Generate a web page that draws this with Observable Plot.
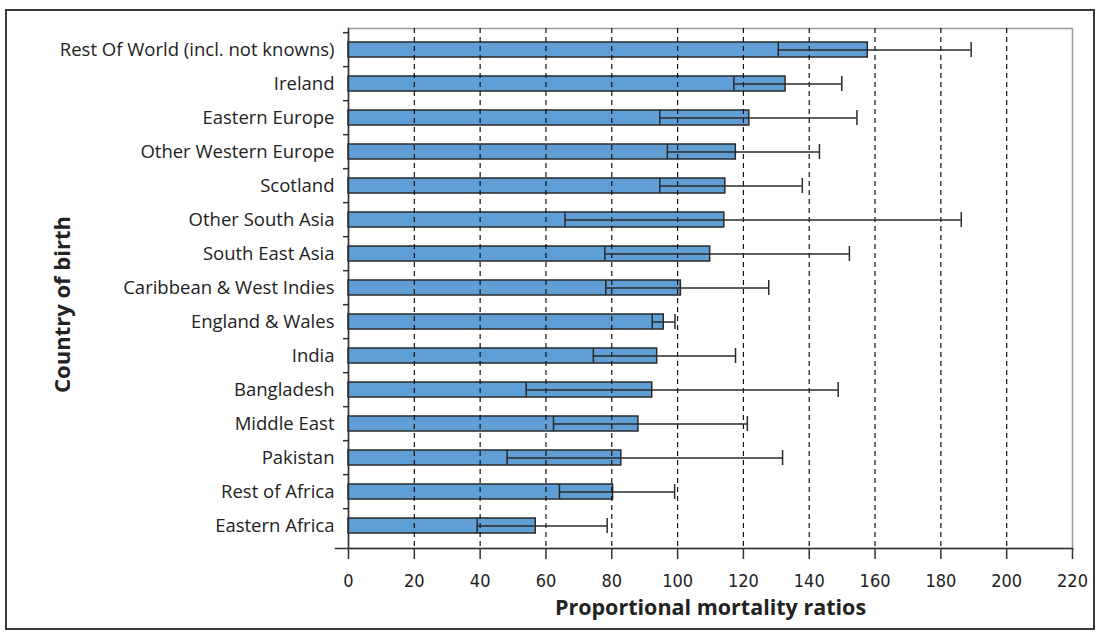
<!DOCTYPE html>
<html>
<head>
<meta charset="utf-8">
<script src="https://cdn.jsdelivr.net/npm/d3@7"></script>
<script src="https://cdn.jsdelivr.net/npm/@observablehq/plot@0.6"></script>
<style>
  html, body { margin: 0; padding: 0; background: #fff; }
  #wrap { position: relative; width: 1099px; height: 632px; }
  #border { position: absolute; left: 5px; top: 9px; width: 1086px; height: 617px; border: 2px solid #3a3a3a; pointer-events: none; }
  svg { display: block; }
</style>
</head>
<body>
<div id="wrap"><div id="border"></div></div>
<script>
const countries = [
  "Rest Of World (incl. not knowns)", "Ireland", "Eastern Europe", "Other Western Europe",
  "Scotland", "Other South Asia", "South East Asia", "Caribbean & West Indies",
  "England & Wales", "India", "Bangladesh", "Middle East", "Pakistan",
  "Rest of Africa", "Eastern Africa"
];
const pmr   = [157.8, 132.8, 121.8, 117.7, 114.5, 114.2, 109.9, 101.0, 95.8, 93.8, 92.3, 88.1, 82.9, 80.4, 56.9];
const lower = [130.6, 117.1, 94.6, 96.9, 94.6, 65.8, 77.9, 78.2, 92.3, 74.4, 54.0, 62.3, 48.2, 64.1, 39.1];
const upper = [189.2, 149.9, 154.5, 143.1, 137.9, 186.2, 152.2, 127.7, 99.2, 117.6, 148.8, 121.2, 131.9, 99.1, 78.6];
const xTicks = [0, 20, 40, 60, 80, 100, 120, 140, 160, 180, 200, 220];
const gridValues = [20, 40, 60, 80, 100, 120, 140, 160, 180, 200];
const xTitle = "Proportional mortality ratios";
const yTitle = "Country of birth";

const data = countries.map((c, i) => ({country: c, pmr: pmr[i], lower: lower[i], upper: upper[i]}));

const W = 1099, H = 632;
const mL = 348, mR = 27, mT = 28, mB = 84;
const step = (H - mT - mB) / countries.length;
const pi = 0.55;

const chart = Plot.plot({
  width: W,
  height: H,
  marginLeft: mL,
  marginRight: mR,
  marginTop: mT,
  marginBottom: mB,
  style: {fontFamily: "'Open Sans', sans-serif", background: "transparent", color: "#222"},
  x: {domain: [0, 220], axis: null},
  y: {domain: countries, paddingInner: pi, paddingOuter: pi / 2, axis: null},
  marks: [
    Plot.frame({stroke: "#9a9a9a", strokeWidth: 1.5}),
    Plot.barX(data, {x: "pmr", y: "country", fill: "#609fd6", stroke: "#2a2a2a", strokeWidth: 1.5}),
    Plot.ruleX(gridValues, {stroke: "#111", strokeWidth: 1.2, strokeDasharray: "5,4"}),
    Plot.ruleY(data, {y: "country", x1: "lower", x2: "upper", stroke: "#2a2a2a", strokeWidth: 1.5}),
    Plot.tickX(data, {x: "lower", y: "country", stroke: "#2a2a2a", strokeWidth: 1.5}),
    Plot.tickX(data, {x: "upper", y: "country", stroke: "#2a2a2a", strokeWidth: 1.5}),
    // category boundary ticks on the y axis
    Plot.axisY({tickSize: 5, text: null, label: null, dy: -step / 2, stroke: "#333", strokeWidth: 1.5}),
    // y axis category labels
    Plot.axisY({tickSize: 0, tickPadding: 14, fontSize: 18.5, label: null, fill: "#222"}),
    // axes lines
    Plot.frame({anchor: "left", stroke: "#333", strokeWidth: 1.5}),
    Plot.frame({anchor: "bottom", stroke: "#333", strokeWidth: 1.5, insetLeft: -13}),
    Plot.axisX({ticks: xTicks, tickSize: 11, tickPadding: 15, fontSize: 18, label: null, stroke: "#333", strokeWidth: 1.5,
                fontFamily: "'DejaVu Sans Condensed', 'Liberation Sans Narrow', sans-serif", fill: "#222"}),
    Plot.text([xTitle], {frameAnchor: "bottom", lineAnchor: "middle", textAnchor: "middle", dy: 60, fontSize: 21.5, fontWeight: "bold", fill: "#222"}),
    Plot.text([yTitle], {frameAnchor: "left", lineAnchor: "middle", textAnchor: "middle", dx: -286, dy: 16, rotate: -90, fontSize: 22, fontWeight: "bold", fill: "#222"})
  ]
});
document.getElementById("wrap").prepend(chart);
</script>
</body>
</html>
